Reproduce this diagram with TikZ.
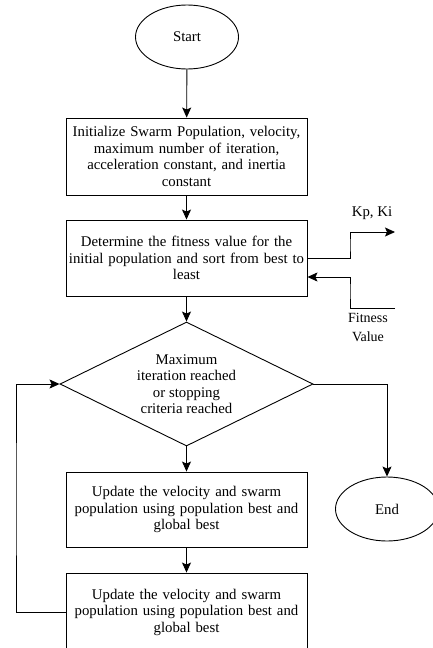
\documentclass[tikz,border=0pt]{standalone}
\usepackage{fontspec}
\setmainfont{Liberation Serif}
\usetikzlibrary{shapes.geometric, arrows.meta}
\begin{document}
\begin{tikzpicture}[x=1pt, y=-1pt, font=\fontsize{14.8}{16.5}\selectfont]
        \tikzstyle{blk} = [draw, black, line width=0.9pt]
        \tikzstyle{box} = [draw, black, line width=0.9pt, minimum width=241pt, text width=239pt, align=center, inner sep=0pt]
        \tikzstyle{term} = [draw, black, line width=0.9pt, ellipse, minimum width=103pt, minimum height=64pt]
        \tikzstyle{arr} = [-{Stealth[length=10pt, width=9pt, inset=2pt]}]
        
        \useasboundingbox (0, 0) rectangle (433, 648);
        
        \node[term] (start) at (187, 37) {Start};
        \node[box, minimum height=77pt] (init) at (186.5, 156.5) {Initialize Swarm Population, velocity,\\ maximum number of iteration,\\ acceleration constant, and inertia\\ constant};
        \node[box, minimum height=76pt] (fitness) at (186.5, 258) {Determine the fitness value for the\\ initial population and sort from best to\\ least};
        \node[blk, diamond, minimum width=253pt, minimum height=124pt, inner sep=0pt, aspect=2, align=center] (check) at (186.5, 384) {Maximum\\ iteration reached\\ or stopping\\ criteria reached};
        \node[box, minimum height=75pt] (update1) at (186.5, 509.5) {Update the velocity and swarm\\ population using population best and\\ global best};
        \node[box, minimum height=78pt] (update2) at (186.5, 612) {Update the velocity and swarm\\ population using population best and\\ global best};
        \node[term] (end) at (387, 509) {End};
        
        \coordinate (kpout) at (395, 232);
        \coordinate (fitin) at (395, 308);
        \node (kplabel) at (372, 213) {Kp, Ki};
        \node[align=center, font=\fontsize{14}{19}\selectfont] (fitlabel) at (368, 327) {Fitness\\ Value};
        
        \path[blk, arr] (start) to (init);
        \path[blk, arr] (init) to (fitness);
        \path[blk, arr] (fitness) to (check);
        \path[blk, arr] (check) to (update1);
        \path[blk, arr] (update1) to (update2);
        \path[blk, arr] (fitness.east |- 0, 258) -| (350, 245) |- (kpout);
        \path[blk, arr] (fitin) -| (350, 290) |- (fitness.east |- 0, 277);
        \path[blk, arr] (check.east) -| (end.north);
        \path[blk, arr] (update2.west) -| (16, 500) |- (check.west);
    \end{tikzpicture}
\end{document}
